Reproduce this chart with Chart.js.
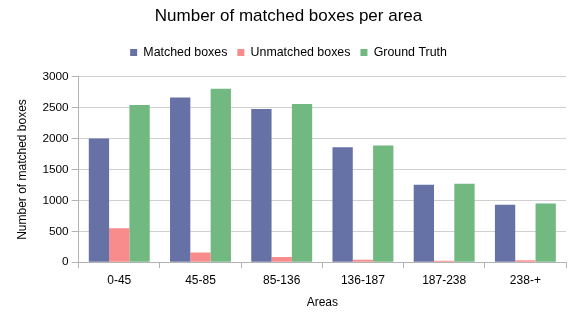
<!DOCTYPE html>
<html>
<head>
<meta charset="utf-8">
<script src="https://cdn.jsdelivr.net/npm/chart.js@4"></script>
<style>
  html, body { margin: 0; padding: 0; background: #fff; }
  #wrap { width: 570px; height: 328px; }
</style>
</head>
<body>
<div id="wrap"><canvas id="chart"></canvas></div>
<script>
const areas = ["0-45", "45-85", "85-136", "136-187", "187-238", "238-+"];
const matched = [2000, 2665, 2478, 1860, 1253, 930];
const unmatched = [548, 156, 86, 40, 25, 30];
const groundTruth = [2543, 2806, 2559, 1887, 1269, 951];
const yTicks = [0, 500, 1000, 1500, 2000, 2500, 3000];

Chart.defaults.font.family = "'Liberation Sans', Arial, sans-serif";
Chart.defaults.color = "#000";

// a bit more room below the legend
const legendGap = {
  id: "legendGap",
  beforeInit(chart) {
    const fit = chart.legend.fit;
    chart.legend.fit = function () { fit.call(this); this.height += 8; };
  }
};

new Chart(document.getElementById("chart"), {
  type: "bar",
  data: {
    labels: areas,
    datasets: [
      { label: "Matched boxes", data: matched, backgroundColor: "#6672a6" },
      { label: "Unmatched boxes", data: unmatched, backgroundColor: "#f88b8b" },
      { label: "Ground Truth", data: groundTruth, backgroundColor: "#71b881" }
    ]
  },
  plugins: [legendGap],
  options: {
    responsive: true,
    maintainAspectRatio: false,
    animation: false,
    layout: { padding: { top: 4, right: 4, left: 11, bottom: 14 } },
    datasets: { bar: { categoryPercentage: 0.75, barPercentage: 1 } },
    plugins: {
      title: {
        display: true,
        text: "Number of matched boxes per area",
        font: { size: 17, weight: "normal" },
        padding: { top: 2, bottom: 10 }
      },
      legend: {
        labels: {
          boxWidth: 7,
          boxHeight: 7,
          font: { size: 12.4 },
          padding: 10
        }
      },
      tooltip: { enabled: false }
    },
    scales: {
      x: {
        grid: { offset: true, drawOnChartArea: false, color: "#b3b3b3", tickLength: 6 },
        border: { color: "#b3b3b3" },
        ticks: { font: { size: 12 }, padding: 5 },
        title: { display: true, text: "Areas", font: { size: 12 }, padding: { top: 3 } }
      },
      y: {
        min: 0,
        max: 3000,
        afterBuildTicks: axis => { axis.ticks = yTicks.map(v => ({ value: v })); },
        grid: { color: "#d0d0d0", tickLength: 7, tickColor: "#b3b3b3" },
        border: { color: "#b3b3b3" },
        ticks: { font: { size: 11.8 }, padding: 3, callback: v => String(v) },
        title: { display: true, text: "Number of matched boxes", font: { size: 12 }, padding: { bottom: 10 } }
      }
    }
  }
});
</script>
</body>
</html>
